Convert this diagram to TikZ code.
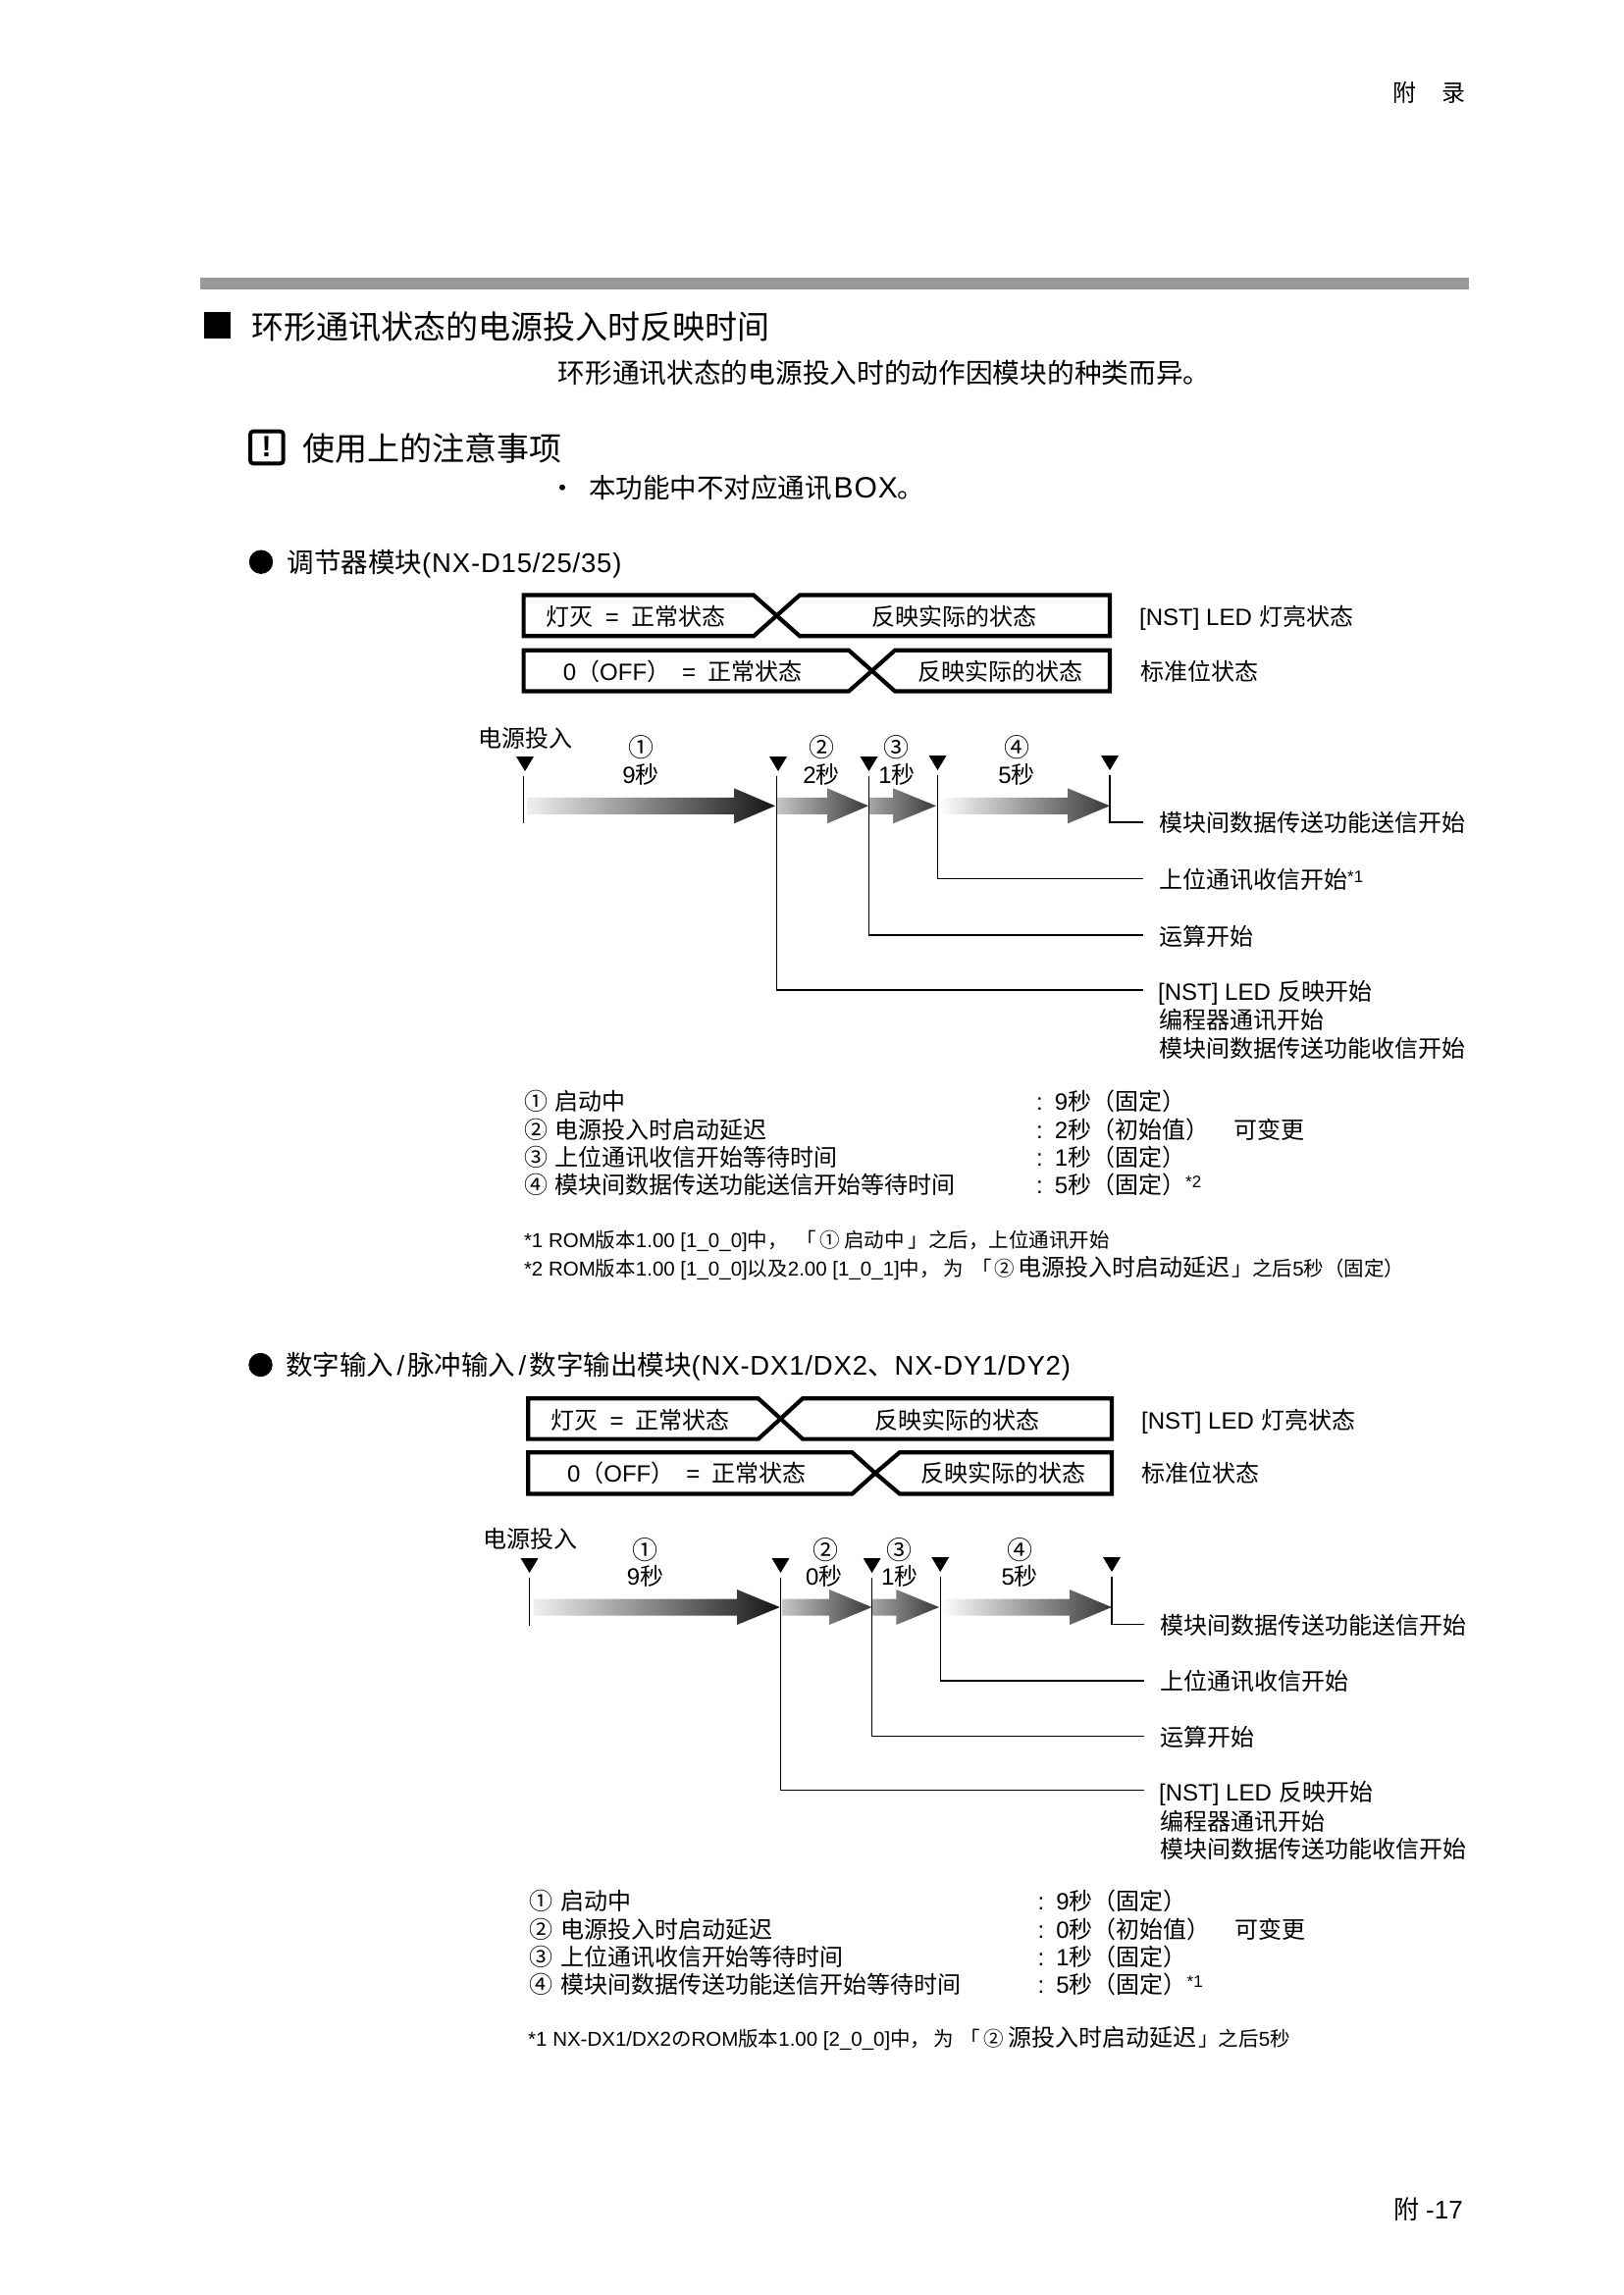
\documentclass[tikz,border=0pt]{standalone}
\usepackage{fontspec}
\setmainfont{Noto Sans CJK SC}
\newfontfamily\enfont{Liberation Sans}
\newfontfamily\enwidefont[LetterSpace=3]{Liberation Sans}
\usepackage{tikz}
\definecolor{cbar}{RGB}{153,153,153}
\newcommand{\fs}[1]{\fontsize{#1}{#1}\selectfont}
\newcommand{\enf}[1]{{\enfont #1}}
\newcommand{\enw}[1]{{\enwidefont #1}}
\newcommand{\sups}[1]{{\enfont\fs{17}\raisebox{6pt}{*#1}}}
\newcommand{\eqgap}{\hspace{.5em}\enf{=}\hspace{.5em}}
\newcommand{\numgap}{\hspace{.32em}}
% status row: x left, kink 1, cross, kink 2, x right, y top, y bottom
\newcommand{\statusrow}[7]{
  \draw[rowline] (#1,#6) -- (#2,#6) -- (#3,{(#6+#7)/2}) -- (#2,#7) -- (#1,#7) -- cycle;
  \draw[rowline] (#5,#6) -- (#4,#6) -- (#3,{(#6+#7)/2}) -- (#4,#7) -- (#5,#7) -- cycle;
}
% faded arrow: x start, head base, tip, y middle, left colour, right colour
\newcommand{\fadearrow}[6]{
  \shade[left color=#5,right color=#6] (#1,{#4-8.5}) -- (#2,{#4-8.5}) -- (#2,{#4-18}) -- (#3,#4)
    -- (#2,{#4+18}) -- (#2,{#4+8.5}) -- (#1,{#4+8.5}) -- cycle;
}
% black marker: x, y top, name of the point under it
\newcommand{\tickmark}[3]{
  \fill (#1-9,#2) -- (#1+9,#2) -- (#1,#2+15) -- cycle;
  \coordinate (#3) at (#1,{#2+19.5});
}
\tikzset{
  sz/.style={font=\fs{#1},text height=.88*#1 pt,text depth=.12*#1 pt},
  lab/.style={anchor=west,inner sep=0pt,sz=24},
  mid/.style={anchor=center,inner sep=0pt,sz=24},
  foot/.style={anchor=west,inner sep=0pt,sz=20.5},
  rowline/.style={line width=4.2pt},
  leader/.style={line width=1.5pt,shorten >=16pt}
}

\begin{document}
\begin{tikzpicture}[x=1pt,y=-1pt]
  \useasboundingbox (0,0) rectangle (1654,2339);
  \fill[white] (0,0) rectangle (1654,2339);
  % page head
  \node[mid] (headl) at (1431,94) {附};
  \node[mid] (headr) at (1481,94) {录};
  \fill[cbar] (204,283) rectangle (1497,295);
  \fill (208,318) rectangle (235,345);
  \node[lab,sz=33] (title) at (256,333) {环形通讯状态的电源投入时反映时间};
  \node[lab,sz=27.7] (intro) at (568.5,380) {环形通讯状态的电源投入时的动作因模块的种类而异。};
  \draw[line width=4pt,rounded corners=3pt] (255,439.7) rectangle (288.7,472.3);
  \node[mid,font=\enfont\bfseries\fs{30}] (warn) at (271.7,456) {!};
  \node[lab,sz=33] (note) at (308,457) {使用上的注意事项};
  \fill (573,496.7) circle (3);
  \node[lab,sz=27.5] (noteitem) at (600,496.7) {本功能中不对应通讯\hspace{2pt}\enw{\fs{30}BOX}。};
  \fill (266,572.7) circle (12.2);
  \node[lab,sz=27.5] (seca) at (292.5,572.7) {调节器模块\enw{(NX-D15/25/35)}};

  % first module group
  \statusrow{533.6}{768}{791.5}{815}{1131}{606.5}{648.3}
  \statusrow{533.6}{865}{888.6}{912}{1131}{662.8}{704.5}
  \node[mid] (arowl) at (648,628) {灯灭\eqgap 正常状态};
  \node[mid] (arowr) at (972,628) {反映实际的状态};
  \node[lab] (arown) at (1161,628) {\enf{[NST] LED}\hspace{8pt}灯亮状态};
  \node[mid] (brow) at (695.5,684) {\enf{0}（\enf{OFF}）\eqgap 正常状态};
  \node[mid] (browr) at (1019,684) {反映实际的状态};
  \node[lab] (brown) at (1162,684) {标准位状态};
  \node[mid] (apower) at (535,752.4) {电源投入};
  \tickmark{535}{771}{at1}
  \tickmark{793}{771}{at2}
  \tickmark{885.5}{771}{at3}
  \tickmark{955.5}{770}{at4}
  \tickmark{1131}{770}{at5}
  \node[mid,sz=26] (an1) at (653,761.7) {①};
  \node[mid] (as1) at (653,789.5) {\enf{9}秒};
  \node[mid,sz=26] (an2) at (837.7,761.7) {②};
  \node[mid] (as2) at (837,789.5) {\enf{2}秒};
  \node[mid,sz=26] (an3) at (913.4,761.7) {③};
  \node[mid] (as3) at (914,789.5) {\enf{1}秒};
  \node[mid,sz=26] (an4) at (1036,761.7) {④};
  \node[mid] (as4) at (1036,789) {\enf{5}秒};
  \fadearrow{537}{748}{790}{821.3}{black!6}{black!92}
  \fadearrow{792}{843}{885}{821.3}{black!22}{black!78}
  \fadearrow{886}{910}{954}{821.3}{black!35}{black!78}
  \fadearrow{957}{1088}{1131}{821.3}{white}{black!78}
  \node[lab] (al1) at (1181,838.8) {模块间数据传送功能送信开始};
  \node[lab] (al2) at (1181,896.5) {上位通讯收信开始\sups{1}};
  \node[lab] (al3) at (1181,954) {运算开始};
  \node[lab] (al4) at (1180,1010.5) {\enf{[NST] LED}\hspace{8pt}反映开始};
  \node[lab] (al5) at (1181,1039.5) {编程器通讯开始};
  \node[lab] (al6) at (1181,1068) {模块间数据传送功能收信开始};
  \coordinate (at1b) at (533.6,839.3);
  \draw[line width=1.5pt] ([xshift=-1.4pt]at1) -- (at1b);
  \draw[leader] (at5) |- ([yshift=.8pt]al1.west);
  \draw[leader] (at4) |- ([yshift=1pt]al2.west);
  \draw[leader] (at3) |- ([yshift=1pt]al3.west);
  \draw[leader] ([xshift=-1.5pt]at2) |- ([xshift=1pt,yshift=1.5pt]al4.west);
  \node[lab] (ak1) at (533.8,1122.3) {①\numgap 启动中};
  \node[lab] (ak2) at (533.8,1151) {②\numgap 电源投入时启动延迟};
  \node[lab] (ak3) at (533.8,1179) {③\numgap 上位通讯收信开始等待时间};
  \node[lab] (ak4) at (533.8,1207.7) {④\numgap 模块间数据传送功能送信开始等待时间};
  \node[lab] (av1) at (1056,1122.3) {\enf{:\hspace{.5em}9}秒（固定）};
  \node[lab] (av2) at (1056,1151) {\enf{:\hspace{.5em}2}秒（初始值）};
  \node[lab] (av3) at (1056,1179) {\enf{:\hspace{.5em}1}秒（固定）};
  \node[lab] (av4) at (1056,1207.7) {\enf{:\hspace{.5em}5}秒（固定）\sups{2}};
  \node[lab] (avc) at (1257,1151) {可变更};
  \node[foot] (af1) at (533.8,1263.3) {\enf{*1 ROM}版本\enf{1.00 [1\_0\_0]}中，\hspace{.4em}「\hspace{.2em}①\hspace{.2em}启动中\hspace{.2em}」之后，上位通讯开始};
  \node[foot] (af2) at (533.8,1292.7) {\enf{*2 ROM}版本\enf{1.00 [1\_0\_0]}以及\enf{2.00 [1\_0\_1]}中，\hspace{.2em}为\hspace{.4em}「\hspace{.1em}②\hspace{.2em}{\fs{24}电源投入时启动延迟}\hspace{.1em}」之后\enf{5}秒（固定）};

  % second module group
  \fill (265.5,1391) circle (12.2);
  \node[lab,sz=27.5] (secb) at (291,1391) {数字输入\hspace{.12em}\enf{/}\hspace{.12em}脉冲输入\hspace{.12em}\enf{/}\hspace{.12em}数字输出模块\enw{(NX-DX1/DX2}、\enw{NX-DY1/DY2)}};
  \statusrow{538.3}{772.7}{795.5}{818}{1133}{1425.2}{1466.6}
  \statusrow{538.3}{868.5}{892}{916.7}{1133}{1480.3}{1522.4}
  \node[mid] (crowl) at (652.5,1447) {灯灭\eqgap 正常状态};
  \node[mid] (crowr) at (975.6,1447) {反映实际的状态};
  \node[lab] (crown) at (1163,1447.6) {\enf{[NST] LED}\hspace{8pt}灯亮状态};
  \node[mid] (drow) at (699.7,1501) {\enf{0}（\enf{OFF}）\eqgap 正常状态};
  \node[mid] (drowr) at (1022.5,1501) {反映实际的状态};
  \node[lab] (drown) at (1163,1501.4) {标准位状态};
  \node[mid] (bpower) at (540,1568.7) {电源投入};
  \tickmark{539.6}{1588}{bt1}
  \tickmark{795.5}{1588}{bt2}
  \tickmark{888.6}{1588}{bt3}
  \tickmark{958.2}{1587}{bt4}
  \tickmark{1133}{1587}{bt5}
  \node[mid,sz=26] (bn1) at (657.5,1579.3) {①};
  \node[mid] (bs1) at (657.5,1606.5) {\enf{9}秒};
  \node[mid,sz=26] (bn2) at (841.7,1579.3) {②};
  \node[mid] (bs2) at (839.7,1606.5) {\enf{0}秒};
  \node[mid,sz=26] (bn3) at (916.7,1579.3) {③};
  \node[mid] (bs3) at (916.7,1606.5) {\enf{1}秒};
  \node[mid,sz=26] (bn4) at (1039.3,1579.3) {④};
  \node[mid] (bs4) at (1039.3,1606.5) {\enf{5}秒};
  \fadearrow{543.6}{751}{794.8}{1638}{black!6}{black!92}
  \fadearrow{796.8}{845}{888.6}{1638}{black!22}{black!78}
  \fadearrow{888.6}{913.3}{957}{1638}{black!35}{black!78}
  \fadearrow{959}{1090}{1133}{1638}{white}{black!78}
  \node[lab] (bl1) at (1182,1656) {模块间数据传送功能送信开始};
  \node[lab] (bl2) at (1182,1713) {上位通讯收信开始};
  \node[lab] (bl3) at (1182,1770) {运算开始};
  \node[lab] (bl4) at (1181,1826.5) {\enf{[NST] LED}\hspace{8pt}反映开始};
  \node[lab] (bl5) at (1182,1856) {编程器通讯开始};
  \node[lab] (bl6) at (1182,1884) {模块间数据传送功能收信开始};
  \coordinate (bt1b) at (539.6,1657);
  \draw[line width=1.3pt] (bt1) -- (bt1b);
  \draw[leader,line width=1.3pt] (bt5) |- ([yshift=.5pt]bl1.west);
  \draw[leader,line width=1.3pt] (bt4) |- (bl2.west);
  \draw[leader,line width=1.3pt] (bt3) |- ([yshift=.3pt]bl3.west);
  \draw[leader,line width=1.3pt] (bt2) |- ([xshift=1pt,yshift=1.7pt]bl4.west);
  \node[lab] (bk1) at (539.5,1937.3) {①\numgap 启动中};
  \node[lab] (bk2) at (539.5,1966) {②\numgap 电源投入时启动延迟};
  \node[lab] (bk3) at (539.5,1994.3) {③\numgap 上位通讯收信开始等待时间};
  \node[lab] (bk4) at (539.5,2022.3) {④\numgap 模块间数据传送功能送信开始等待时间};
  \node[lab] (bv1) at (1057.5,1937.3) {\enf{:\hspace{.5em}9}秒（固定）};
  \node[lab] (bv2) at (1057.5,1966) {\enf{:\hspace{.5em}0}秒（初始值）};
  \node[lab] (bv3) at (1057.5,1994.3) {\enf{:\hspace{.5em}1}秒（固定）};
  \node[lab] (bv4) at (1057.5,2022.3) {\enf{:\hspace{.5em}5}秒（固定）\sups{1}};
  \node[lab] (bvc) at (1258,1966) {可变更};
  \node[foot] (bf1) at (538,2077.3) {\enf{*1 NX-DX1/DX2}の\enf{ROM}版本\enf{1.00 [2\_0\_0]}中，\hspace{.15em}为\hspace{.3em}「\hspace{.2em}②\hspace{.2em}{\fs{24}源投入时启动延迟}\hspace{.1em}」之后\enf{5}秒};

  % page number
  \node[lab,sz=26] (pagenum) at (1420,2252) {附\hspace{7pt}\enf{-17}};
\end{tikzpicture}
\end{document}
